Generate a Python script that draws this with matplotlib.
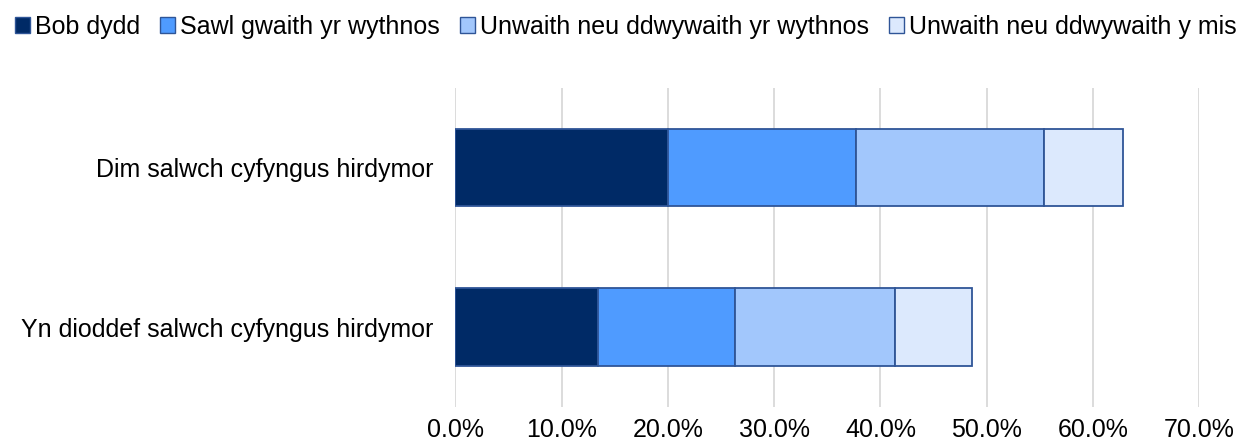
import matplotlib
matplotlib.use("Agg")
import matplotlib.pyplot as plt
from matplotlib.patches import Patch
from matplotlib.ticker import FuncFormatter

categories = ["Yn dioddef salwch cyfyngus hirdymor", "Dim salwch cyfyngus hirdymor"]
series_names = ["Bob dydd", "Sawl gwaith yr wythnos",
                "Unwaith neu ddwywaith yr wythnos", "Unwaith neu ddwywaith y mis"]
bob_dydd = [13.4, 20.0]
sawl_gwaith = [12.9, 17.7]
unwaith_wythnos = [15.1, 17.7]
unwaith_mis = [7.2, 7.4]
x_ticks = [0, 10, 20, 30, 40, 50, 60, 70]

colors = ["#002A66", "#4F9BFF", "#A2C7FC", "#DCE9FD"]
edge = "#2F5597"

plt.rcParams['font.family'] = ['Liberation Sans', 'DejaVu Sans']

fig = plt.figure(figsize=(12.42, 4.48), dpi=100)
ax = fig.add_axes([0.3666, 0.0922, 0.599, 0.7114])

series = [bob_dydd, sawl_gwaith, unwaith_wythnos, unwaith_mis]
left = [0.0] * len(categories)
ypos = list(range(len(categories)))
for vals, c, name in zip(series, colors, series_names):
    ax.barh(ypos, vals, left=left, height=0.485, color=c, edgecolor=edge,
            linewidth=1.3, label=name, zorder=3)
    left = [l + v for l, v in zip(left, vals)]

ax.set_xlim(0, 70)
ax.set_ylim(-0.5, 1.5)
ax.set_xticks(x_ticks)
ax.xaxis.set_major_formatter(FuncFormatter(lambda v, p: f"{v:.1f}%"))
ax.set_yticks(ypos)
ax.set_yticklabels(categories)
ax.tick_params(axis='both', length=0, labelsize=18, labelcolor="#000000")
ax.tick_params(axis='x', pad=8)
ax.tick_params(axis='y', pad=16)
ax.grid(axis='x', color="#D9D9D9", linewidth=1.3, zorder=0)
for s in ax.spines.values():
    s.set_visible(False)

handles = [Patch(facecolor=c, edgecolor=edge, linewidth=1.0) for c in colors]
fig.legend(handles, series_names, loc="upper left", bbox_to_anchor=(0.0, 1.0),
           ncol=4, frameon=False, fontsize=18, handlelength=0.6, handleheight=0.6,
           handletextpad=0.2, columnspacing=0.8, borderaxespad=0.2)

fig.savefig("out.png", dpi=100)
